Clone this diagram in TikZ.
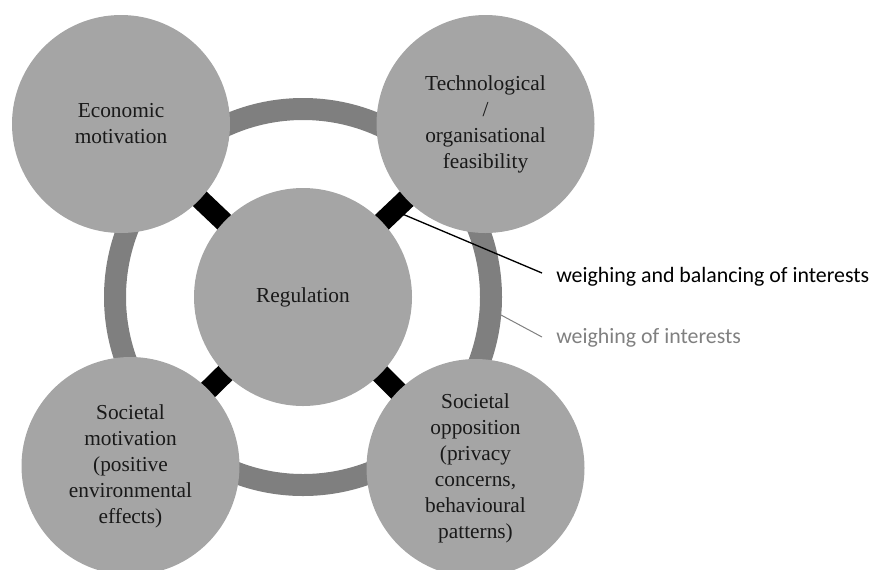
\documentclass[tikz,border=0pt]{standalone}
\usepackage{fontspec}
\setmainfont{Liberation Serif}
\newfontfamily\labelfont{Carlito}
\usetikzlibrary{backgrounds,calc}
\definecolor{circfill}{RGB}{165,165,165}
\definecolor{ringcol}{RGB}{127,127,127}
\definecolor{labgray}{RGB}{128,128,128}
\definecolor{txtcol}{RGB}{25,25,25}
\begin{document}
\begin{tikzpicture}[x=0.75pt,y=-0.75pt,
  bubble/.style={circle,fill=circfill,minimum size=163.5pt,inner sep=0pt,align=center,text=txtcol,font=\fontsize{16}{19.5}\selectfont},
  ringline/.style={draw=ringcol,line width=16.5pt},
  link/.style={draw=black,line width=15pt},
  leader/.style={line width=1pt},
  lab/.style={anchor=base west,inner sep=0pt,font=\labelfont\fontsize{16.4}{19}\selectfont}]
\useasboundingbox (0,0) rectangle (873,569);
\node[bubble] (reg) at (303,297) {Regulation};
\node[bubble] (econ) at (121,124) {Economic\\motivation};
\node[bubble] (tech) at (485.5,124) {Technological\\/\\organisational\\feasibility};
\node[bubble] (socm) at (130.5,466) {Societal\\motivation\\(positive\\environmental\\effects)};
\node[bubble] (soco) at (475.5,468) {Societal\\opposition\\(privacy\\concerns,\\behavioural\\patterns)};
\begin{pgfonlayer}{background}
\draw[ringline] (reg.center) circle[radius=188];
\draw[link] (reg.center) -- (econ.center);
\draw[link] (reg.center) -- (tech.center);
\draw[link] (reg.center) -- (socm.center);
\draw[link] (reg.center) -- (soco.center);
\end{pgfonlayer}
\node[lab,text=black] (lab1) at (556,282) {weighing and balancing of interests};
\node[lab,text=labgray] (lab2) at (556,343) {weighing of interests};
\coordinate (s1) at (400,213);
\coordinate (e1) at (542,273);
\coordinate (s2) at (501,315);
\coordinate (e2) at (542,337);
\draw[leader] (s1) -- (e1);
\draw[leader,draw=labgray,line width=0.75pt] (s2) -- (e2);
\end{tikzpicture}
\end{document}
